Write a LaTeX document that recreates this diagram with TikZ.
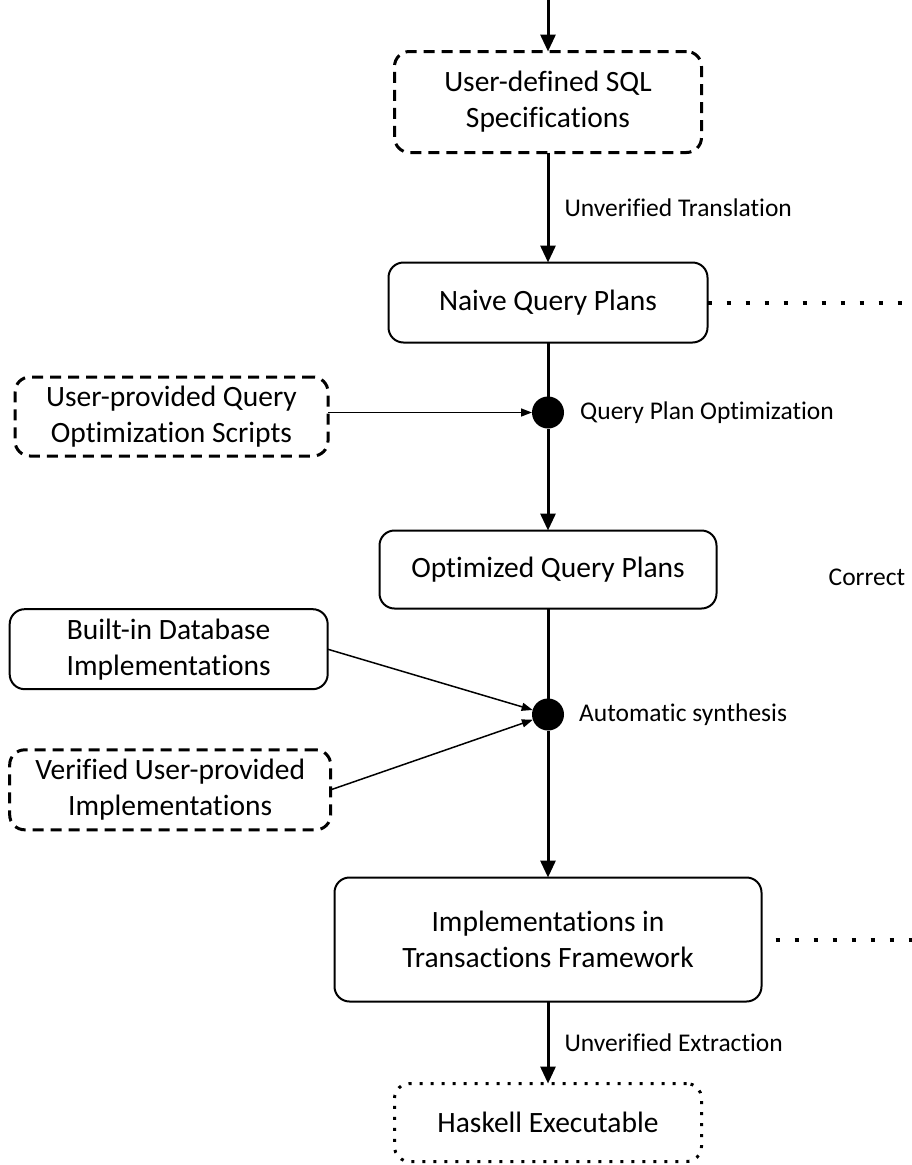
\documentclass[tikz,border=0pt]{standalone}
\usepackage{fontspec}
\setmainfont[Ligatures=NoCommon]{Carlito}
\usetikzlibrary{positioning, arrows.meta}

\begin{document}
\begin{tikzpicture}[
      x=1pt, y=-1pt,
      box/.style={rectangle, rounded corners=15pt, align=center, inner sep=2pt,
      outer sep=0pt, font=\fontsize{29.5}{36}\selectfont},
      block/.style={box, draw, line width=2pt},
      userblock/.style={box, draw, line width=3pt, dash pattern=on 11pt off 7pt},
      outblock/.style={box, draw, line width=3pt, dash pattern=on 3pt off 8pt},
      junction/.style={circle, fill=black, minimum size=32pt, inner sep=0pt, outer sep=0pt},
      line/.style={draw, line width=3pt, -{Triangle[length=17pt, width=15pt]}},
      plain/.style={draw, line width=3pt},
      feed/.style={draw, line width=1.5pt, -{Triangle[length=11pt, width=8pt]}},
      link/.style={draw, line width=4pt, dash pattern=on 4pt off 15pt},
      lbl/.style={font=\fontsize{25.5}{30}\selectfont, inner sep=0pt}
    ]
    \useasboundingbox (0,0) rectangle (911,1165);

    % Nodes
    \node [userblock, minimum width=307pt, minimum height=101pt] (sql) at (548,102)
      {User-defined SQL\\Specifications};
    \node [block, minimum width=319pt, minimum height=80pt, below=110pt of sql] (naive)
      {Naive Query Plans};
    \node [junction, below=54pt of naive] (opt) {};
    \node [userblock, minimum width=313pt, minimum height=79pt,
      left=204pt of opt, yshift=-4pt] (scripts)
      {User-provided Query\\Optimization Scripts};
    \node [block, minimum width=337pt, minimum height=78pt, below=102pt of opt] (optimized)
      {Optimized Query Plans};
    \node [junction, below=90pt of optimized] (synth) {};
    \node [block, minimum width=318pt, minimum height=80pt,
      above left=14pt and 209pt of synth] (builtin)
      {Built-in Database\\Implementations};
    \node [userblock, minimum width=321pt, minimum height=80pt,
      below left=24pt and 206pt of synth] (verified)
      {Verified User-provided\\Implementations};
    \node [block, minimum width=427pt, minimum height=124pt, below=147pt of synth] (impl)
      {Implementations in\\Transactions Framework};
    \node [outblock, minimum width=307pt, minimum height=78pt, below=82pt of impl] (haskell)
      {Haskell Executable};

    \node [lbl, right=16pt of opt] (optlbl) {Query Plan Optimization};
    \node [lbl, right=15pt of synth] (synthlbl) {Automatic synthesis};
    \node [lbl, right=112pt of optimized, yshift=-8pt] (correct) {Correct};

    \coordinate (start) at (548,0);
    \coordinate [right=204pt of naive] (naiveend);
    \coordinate [right=14pt of impl] (implgap);
    \coordinate [right=150pt of impl] (implend);

    % Paths
    \path [line] (start) -- (sql);
    \path [line] (sql) -- node [lbl, right=15pt] {Unverified Translation} (naive);
    \path [plain] (naive) -- (opt);
    \path [line] (opt) -- (optimized);
    \path [plain] (optimized) -- (synth);
    \path [line] (synth) -- (impl);
    \path [line] (impl) -- node [lbl, right=15pt] {Unverified Extraction} (haskell);

    \path [feed] (scripts.east |- opt) -- (opt);
    \path [feed] (builtin.east) -- (synth);
    \path [feed] (verified.east) -- (synth);

    \path [link] (naive.east) -- (naiveend);
    \path [link] (implgap) -- (implend);
  \end{tikzpicture}
\end{document}
